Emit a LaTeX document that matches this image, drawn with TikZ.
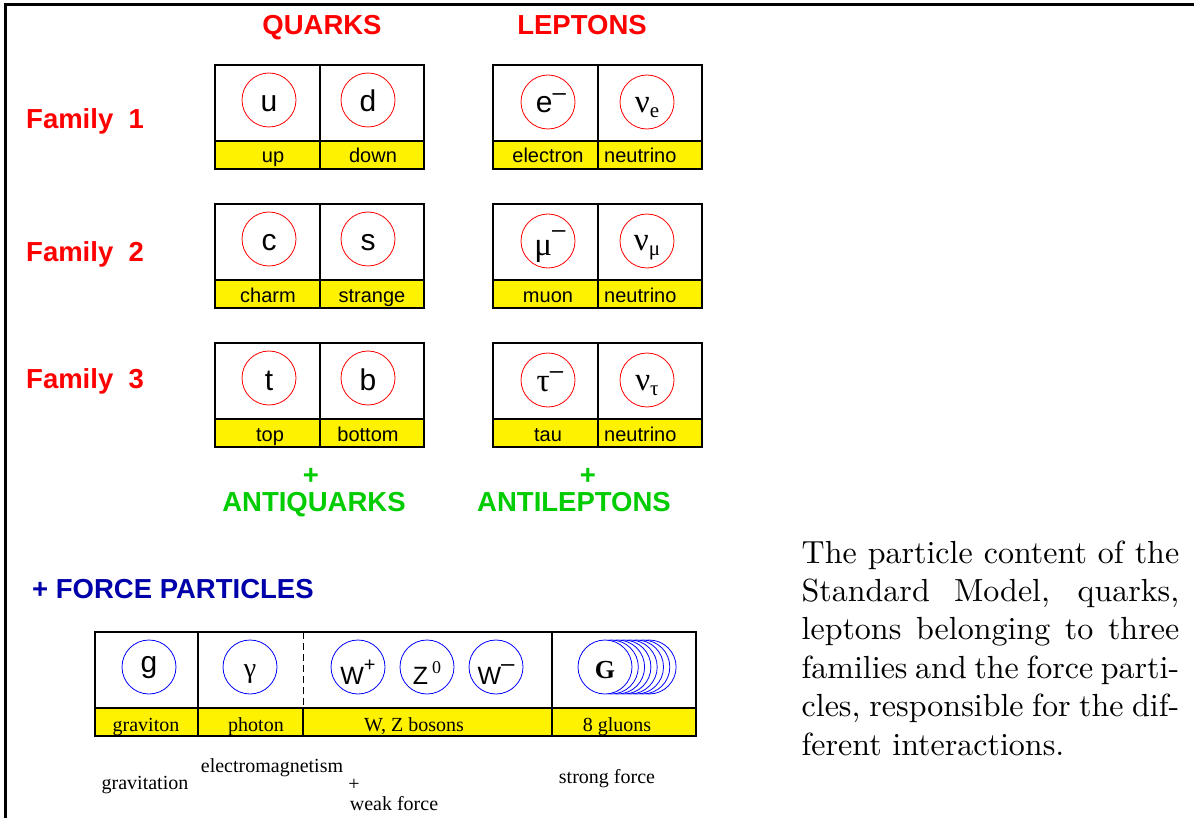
\documentclass[tikz,border=0pt]{standalone}
\usepackage{fontspec}
\newfontfamily\helv{Liberation Sans}
\newfontfamily\tms{Liberation Serif}
\definecolor{lgreen}{RGB}{0,204,0}
\definecolor{fblue}{RGB}{0,0,170}
\tikzset{
  head/.style={font=\helv\bfseries\fontsize{27.5}{30}\selectfont, anchor=base, inner sep=0},
  ring/.style={circle, minimum size=54pt, inner sep=0, line width=0.8pt},
  sym/.style={font=\helv\fontsize{30}{30}\selectfont, anchor=base, inner sep=0},
  gsym/.style={font=\tms\fontsize{33}{33}\selectfont, anchor=base, inner sep=0},
  lab/.style={font=\helv\fontsize{20}{24}\selectfont, anchor=base, inner sep=0},
  tlab/.style={font=\tms\fontsize{20}{24}\selectfont, anchor=base, inner sep=0},
  boxline/.style={line width=1.1pt, draw=black},
}
\newcommand\pbox[2]{%
  \draw[boxline, fill=yellow] (#1,#2+76) rectangle (#1+209,#2+104);
  \draw[boxline] (#1,#2) rectangle (#1+209,#2+104) (#1+105,#2) -- (#1+105,#2+104);}
\newcommand\ring[4]{\node[ring, draw=#4] (#1) at (#2,#3) {};}
\newcommand\supx[2]{\raisebox{#1}{\fontsize{20}{20}\selectfont #2}}
\newcommand\minx[1]{\raisebox{#1}{\helv\fontsize{24}{24}\selectfont –}}
\newcommand\subx[1]{\raisebox{-5pt}{\tms\fontsize{21}{21}\selectfont #1}}
\begin{document}
\begin{tikzpicture}[x=1pt,y=-1pt]
\useasboundingbox (0,0) rectangle (1194,818);
\draw[line width=3pt] (5.5,818) -- (5.5,4.5) -- (1194,4.5);

% headings
\node[head, text=red] (quarks) at (322,35) {QUARKS};
\node[head, text=red] (leptons) at (582,35) {LEPTONS};
\node[head, text=red, anchor=base west] (fam1) at (26,129) {Family\ \ 1};
\node[head, text=red, anchor=base west] (fam2) at (26,262) {Family\ \ 2};
\node[head, text=red, anchor=base west] (fam3) at (26,388) {Family\ \ 3};

% boxes
\pbox{215}{65} \pbox{493}{65}
\pbox{215}{204} \pbox{493}{204}
\pbox{215}{343} \pbox{493}{343}

% family 1
\ring{u}{269}{100}{red} \ring{d}{368}{100}{red}
\ring{e}{548}{102}{red} \ring{ne}{647}{102}{red}
\node[sym] (us) at (269,112) {u};
\node[sym] (ds) at (368,112) {d};
\node[sym] (es) at (551,113) {e\minx{12pt}};
\node[gsym] (nes) at (647,113) {ν\subx{e}};
\node[lab] (ul) at (273,163) {up};
\node[lab] (dl) at (373,163) {down};
\node[lab] (el) at (548,163) {electron};
\node[lab, anchor=base west] (nel) at (604,163) {neutrino};

% family 2
\ring{c}{269}{239}{red} \ring{s}{368}{239}{red}
\ring{m}{548}{241}{red} \ring{nm}{647}{241}{red}
\node[sym] (cs) at (269,251) {c};
\node[sym] (ss) at (368,251) {s};
\node[gsym] (ms) at (550,256) {μ\minx{18pt}};
\node[gsym] (nms) at (647,251) {ν\subx{μ}};
\node[lab] (cl) at (268,302) {charm};
\node[lab] (sl) at (372,302) {strange};
\node[lab] (ml) at (548,302) {muon};
\node[lab, anchor=base west] (nml) at (604,302) {neutrino};

% family 3
\ring{t}{269}{378}{red} \ring{b}{368}{378}{red}
\ring{ta}{548}{380}{red} \ring{nt}{647}{380}{red}
\node[sym] (ts) at (269,390) {t};
\node[sym] (bs) at (368,390) {b};
\node[gsym] (tas) at (550,391) {τ\minx{13pt}};
\node[gsym] (nts) at (647,390) {ν\subx{τ}};
\node[lab] (tl) at (270,441) {top};
\node[lab] (bl) at (368,441) {bottom};
\node[lab] (tal) at (548,441) {tau};
\node[lab, anchor=base west] (ntl) at (604,441) {neutrino};

% anti
\node[head, text=lgreen] (p1) at (311,484) {+};
\node[head, text=lgreen] (aq) at (314,511) {ANTIQUARKS};
\node[head, text=lgreen] (p2) at (588,484) {+};
\node[head, text=lgreen] (al) at (574,511) {ANTILEPTONS};

% force particles
\node[head, text=fblue, anchor=base west] (fp) at (32,598) {+ FORCE PARTICLES};
\draw[boxline, fill=yellow] (95,708) rectangle (696,736);
\draw[boxline] (95,632) rectangle (696,736);
\draw[boxline] (198,632) -- (198,736) (552,632) -- (552,736) (303,708) -- (303,736);
\draw[line width=0.8pt, dash pattern=on 7pt off 4pt] (303,632) -- (303,708);

\ring{g}{149}{667}{blue}
\ring{ga}{250}{667}{blue}
\ring{wp}{358}{667}{blue}
\ring{z}{427}{667}{blue}
\ring{wm}{496}{667}{blue}
\foreach \i in {7,6,...,1} {\node[ring, draw=blue, fill=white] (G\i) at (605+6.3*\i,667) {};}
\node[ring, draw=blue, fill=white] (G0) at (605,667) {};

\node[sym] (gs) at (149,672) {g};
\node[gsym, font=\tms\fontsize{28}{28}\selectfont] (gas) at (250,677) {γ};
\node[sym, font=\helv\fontsize{25}{25}\selectfont] (wps) at (358,684) {W\supx{13pt}{+}};
\node[sym, font=\helv\fontsize{25}{25}\selectfont] (zs) at (427,684) {Z\,\raisebox{11pt}{\tms\fontsize{18}{18}\selectfont 0}};
\node[sym, font=\helv\fontsize{25}{25}\selectfont] (wms) at (496,684) {W\minx{13pt}};
\node[gsym, font=\tms\bfseries\fontsize{26}{26}\selectfont] (Gs) at (605,678) {G};

\node[tlab] (gl) at (146,731) {graviton};
\node[tlab] (gal) at (256,731) {photon};
\node[tlab] (wzl) at (414,731) {W, Z bosons};
\node[tlab] (Gl) at (617,731) {8 gluons};

\node[tlab] (f1) at (145,789) {gravitation};
\node[tlab] (f2) at (272,772) {electromagnetism};
\node[tlab] (f3) at (354,790) {+};
\node[tlab] (f4) at (394,810) {weak force};
\node[tlab] (f5) at (607,783) {strong force};

% caption
\node[anchor=base west, inner sep=0, scale=3.2] (cap) at (801,563) {\parbox[t]{118pt}{\fontsize{10}{12}\selectfont\tolerance=10000\hbadness=10000
The particle content of the\linebreak
Standard Model, quarks,\linebreak
leptons belonging to three\linebreak
families and the force parti-\linebreak
cles, responsible for the dif-\linebreak
ferent interactions.}};
\end{tikzpicture}
\end{document}
